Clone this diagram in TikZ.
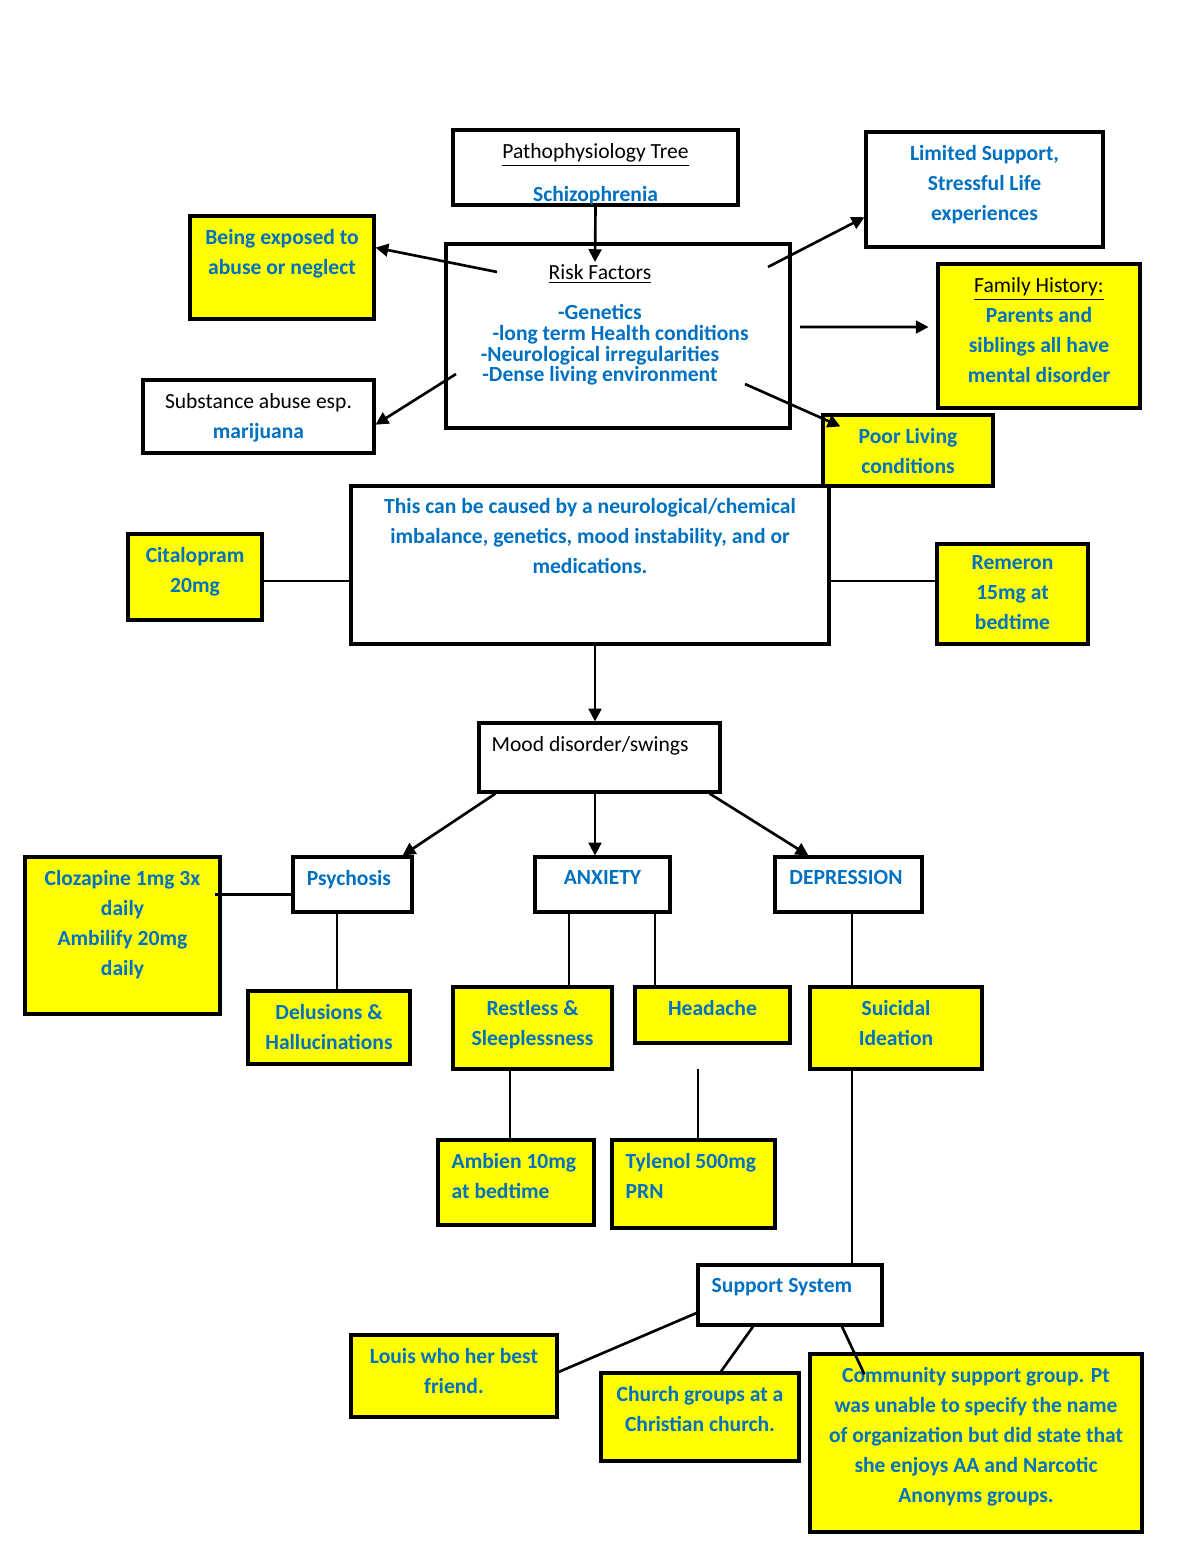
\documentclass[tikz,border=0pt]{standalone}
\usepackage{fontspec}
\setmainfont{Carlito}
\usetikzlibrary{arrows.meta}
\usetikzlibrary{calc}
\usetikzlibrary{fit}

\definecolor{bluetxt}{HTML}{0070C0}
\definecolor{hilite}{HTML}{FFFF00}
\newcommand{\blk}[1]{{\mdseries\color{black}#1}}

\tikzset{
  box/.style={draw, line width=1.6pt, inner sep=0pt},
  ybox/.style={box, fill=hilite},
  txt/.style={anchor=north, yshift=-7.6pt, inner sep=0pt, align=center, text=bluetxt, font=\bfseries\fontsize{11}{15.3}\selectfont},
  txtl/.style={txt, anchor=north west, align=left, xshift=7.6pt},
  tight/.style={font=\bfseries\fontsize{11}{10.5}\selectfont},
  link/.style={line width=1.35pt},
  arr/.style={link, -{Triangle[length=6.5pt,width=6.5pt]}},
}

\begin{document}
\begin{tikzpicture}[x=0.51pt, y=-0.51pt]
\useasboundingbox (0,0) rectangle (1200,1553);

% top part
\node[box, fit={(453,130) (738,205)}, label={[txt, tight]north:{\blk{\underline{Pathophysiology Tree}}\\[9pt]Schizophrenia}}] (tree) {};
\node[box, fit={(446,244) (790,428)}, label={[txt, tight, yshift=-3.4pt, xshift=-9.2pt]north:{\blk{\underline{Risk Factors}}\\[10.2pt]-Genetics\\\hspace*{21pt}-long term Health conditions\\-Neurological irregularities\\-Dense living environment}}] (risk) {};
\node[ybox, fit={(190,216) (374,319)}, label={[txt]north:{Being exposed to\\abuse or neglect}}] (abuse) {};
\node[box, fit={(143,380) (374,453)}, label={[txt]north:{\blk{Substance abuse esp.}\\marijuana}}] (subst) {};
\node[box, fit={(866,132) (1103,247)}, label={[txt]north:{Limited Support,\\Stressful Life\\experiences}}] (limited) {};
\node[ybox, fit={(938,264) (1140,408)}, label={[txt]north:{\blk{\underline{Family History:}}\\Parents and\\siblings all have\\mental disorder}}] (family) {};
\node[ybox, fit={(823,415) (993,486)}, label={[txt]north:{Poor Living\\conditions}}] (poor) {};

\coordinate (rf) at (595,262);
\coordinate (r1) at (497,272);
\coordinate (r2) at (456,374);
\coordinate (r3) at (768,267);
\coordinate (r4) at (800,327);
\coordinate (r5) at (745,384);
\draw[arr] (tree.south) -- (rf);
\draw[arr] (r1) -- (abuse.12);
\draw[arr] (r2) -- (subst.-4);
\draw[arr] (r3) -- (limited.193);
\draw[arr, shorten >=4pt] (r4) -- (family.175);
\draw[arr] (r5) -- ($(poor.north west)+(19,13)$);

% causes and meds
\node[box, fit={(351,486) (829,644)}, label={[txt, yshift=0.5pt]north:{This can be caused by a neurological/chemical\\imbalance, genetics, mood instability, and or\\medications.}}] (cause) {};
\node[ybox, fit={(128,534) (262,620)}, label={[txt]north:{Citalopram\\20mg}}] (citalo) {};
\node[ybox, fit={(937,544) (1088,644)}, label={[txt, yshift=1pt]north:{Remeron\\15mg at\\bedtime}}] (remeron) {};
\draw[link] ($(citalo.east)+(0,4)$) coordinate (ce) -- (ce -| cause.west);
\draw[link] ($(remeron.west)+(0,-13)$) coordinate (rw) -- (rw -| cause.east);

\node[box, fit={(479,723) (720,792)}, label={[txt, xshift=-4.8pt]north:{\blk{Mood disorder/swings}}}] (mood) {};
\draw[arr] ($(cause.south)+(5,0)$) coordinate (cs) -- (cs |- mood.north);

% three branches
\node[box, fit={(293,857) (412,912)}, label={[txt, xshift=-1.8pt]north:{Psychosis}}] (psych) {};
\node[box, fit={(535,857) (670,912)}, label={[txt]north:{ANXIETY}}] (anx) {};
\node[box, fit={(775,857) (922,912)}, label={[txt, xshift=-1.3pt]north:{DEPRESSION}}] (dep) {};
\draw[arr] ($(mood.south west)+(18,0)$) -- ($(psych.north east)+(-11,0)$);
\draw[arr] ($(mood.south)+(-4.5,0)$) coordinate (ms) -- (ms |- anx.north);
\draw[arr] ($(mood.south east)+(-12,0)$) -- ($(dep.north west)+(35,0)$);

\node[ybox, fit={(25,857) (220,1014)}, label={[txt]north:{Clozapine 1mg 3x\\daily\\Ambilify 20mg\\daily}}] (cloz) {};
\node[ybox, fit={(248,991) (410,1064)}, label={[txt]north:{Delusions \&\\Hallucinations}}] (delus) {};
\node[ybox, fit={(453,987) (612,1069)}, label={[txt]north:{Restless \&\\Sleeplessness}}] (restless) {};
\node[ybox, fit={(635,987) (790,1043)}, label={[txt]north:{Headache}}] (headache) {};
\node[ybox, fit={(810,987) (982,1069)}, label={[txt]north:{Suicidal\\Ideation}}] (suicide) {};
\node[ybox, fit={(438,1140) (594,1225)}, label={[txtl]north west:{Ambien 10mg\\at bedtime}}] (ambien) {};
\node[ybox, fit={(612,1140) (775,1228)}, label={[txtl]north west:{Tylenol 500mg\\PRN}}] (tylenol) {};

\draw[link] ($(psych.west)+(0,10)$) coordinate (pw) -- ($(pw -| cloz.east)+(-7,0)$);
\draw[link] ($(psych.south)+(-15.5,0)$) coordinate (ps) -- (ps |- delus.north);
\draw[link] ($(anx.south)+(-33.5,0)$) coordinate (a1) -- (a1 |- restless.north);
\draw[link] ($(anx.south)+(52.5,0)$) coordinate (a2) -- (a2 |- headache.north);
\draw[link] ($(dep.south)+(3.5,0)$) coordinate (ds) -- (ds |- suicide.north);
\draw[link] ($(restless.south)+(-22.5,0)$) coordinate (rs) -- (rs |- ambien.north);
\coordinate (hd) at (698,1069);
\draw[link] (hd) -- (hd |- tylenol.north);

% support system
\node[box, fit={(698,1265) (882,1325)}, label={[txt, xshift=-4.1pt]north:{Support System}}] (support) {};
\node[ybox, fit={(351,1335) (557,1417)}, label={[txt]north:{Louis who her best\\friend.}}] (louis) {};
\node[ybox, fit={(601,1373) (799,1461)}, label={[txt]north:{Church groups at a\\Christian church.}}] (church) {};
\node[ybox, fit={(810,1354) (1142,1532)}, label={[txt]north:{Community support group. Pt\\was unable to specify the name\\of organization but did state that\\she enjoys AA and Narcotic\\Anonyms groups.}}] (commun) {};
\draw[link] ($(suicide.south)+(-44,0)$) coordinate (ss) -- (ss |- support.north);
\draw[link] ($(support.west)+(0,18)$) -- ($(louis.east)+(0,-4)$);
\draw[link] ($(support.south)+(-37,0)$) -- ($(church.north)+(21,0)$);
\draw[link] ($(support.south)+(52,0)$) -- ($(commun.north west)+(56,22)$);
\end{tikzpicture}
\end{document}
